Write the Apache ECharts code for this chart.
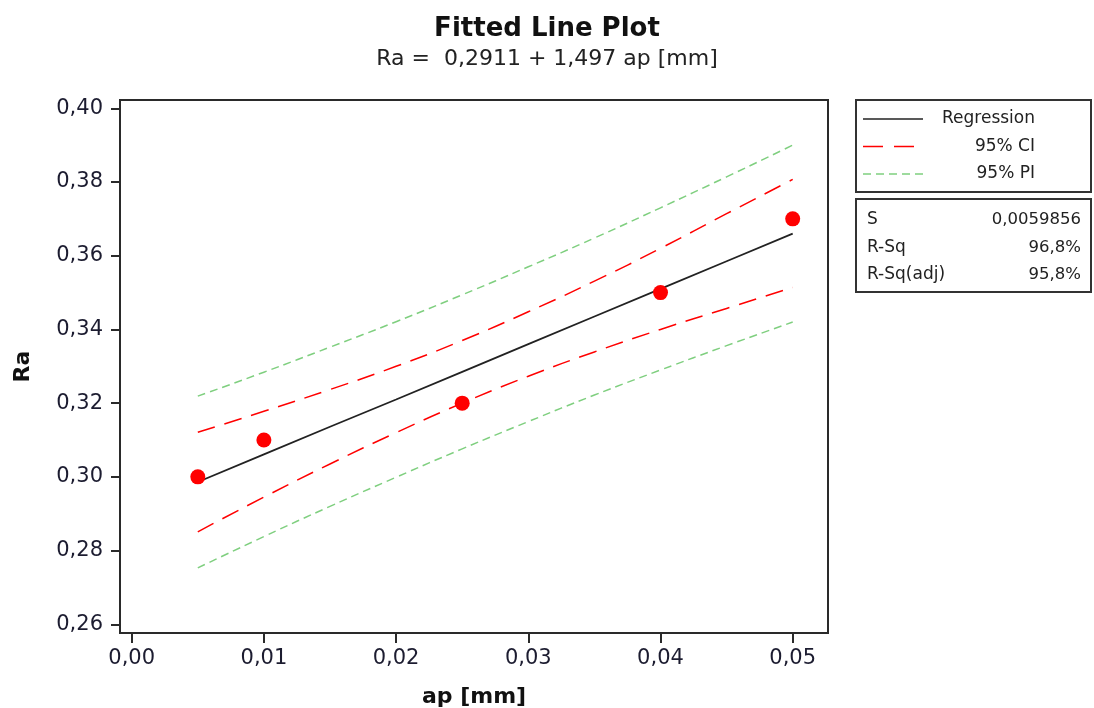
<!DOCTYPE html>
<html>
<head>
<meta charset="utf-8">
<script src="https://cdn.jsdelivr.net/npm/echarts@6/dist/echarts.min.js"></script>
<style>
  html, body { margin: 0; padding: 0; background: #fff; }
  #chart { width: 1094px; height: 708px; }
</style>
</head>
<body>
<div id="chart"></div>
<script>
// observed values
const apObs = [0.005, 0.01, 0.025, 0.04, 0.05]
const raObs = [0.30, 0.31, 0.32, 0.35, 0.37]

// fitted line + bands
const apFit = [0.005, 0.01, 0.015, 0.02, 0.025, 0.03, 0.035, 0.04, 0.045, 0.05]
const raFit = [0.2986, 0.3061, 0.3136, 0.3210, 0.3285, 0.3360, 0.3435, 0.3510, 0.3585, 0.3660]
const ciUpper = [0.3121, 0.3178, 0.3237, 0.3300, 0.3370, 0.3448, 0.3531, 0.3620, 0.3714, 0.3807]
const ciLower = [0.2851, 0.2945, 0.3035, 0.3120, 0.3200, 0.3273, 0.3339, 0.3400, 0.3457, 0.3514]
const piUpper = [0.3219, 0.3284, 0.3352, 0.3421, 0.3494, 0.3570, 0.3648, 0.3730, 0.3814, 0.3900]
const piLower = [0.2753, 0.2838, 0.2920, 0.2999, 0.3076, 0.3150, 0.3222, 0.3290, 0.3356, 0.3420]

// axis ticks
const xTicks = [0, 0.01, 0.02, 0.03, 0.04, 0.05]
const yTicks = [0.26, 0.28, 0.30, 0.32, 0.34, 0.36, 0.38, 0.40]

// legend + stats text
const legendNames = ['Regression', '95% CI', '95% PI']
const statNames = ['S', 'R-Sq', 'R-Sq(adj)']
const statValues = ['0,0059856', '96,8%', '95,8%']

const FONT = 'DejaVu Sans'
const pairs = (xs, ys) => xs.map((x, i) => [x, ys[i]])
const comma = (v, d) => v.toFixed(d).replace('.', ',')

const chart = echarts.init(document.getElementById('chart'))

const legendStyles = [
  { stroke: '#222', lineWidth: 1.5 },
  { stroke: '#ff0000', lineWidth: 1.5, lineDash: [20, 11] },
  { stroke: '#7fcf7f', lineWidth: 1.5, lineDash: [8, 5] }
]
const graphics = [
  { type: 'rect', shape: { x: 856, y: 100, width: 235, height: 92 }, style: { fill: '#fff', stroke: '#333', lineWidth: 2 } },
  { type: 'rect', shape: { x: 856, y: 199, width: 235, height: 93 }, style: { fill: '#fff', stroke: '#333', lineWidth: 2 } }
]
legendNames.forEach((name, i) => {
  const y = 119 + i * 27.5
  graphics.push({ type: 'line', shape: { x1: 863, y1: y, x2: 923, y2: y }, style: legendStyles[i] })
  graphics.push({ type: 'text', x: 1035, y: y, style: { text: name, font: '17px ' + FONT, fill: '#222', align: 'right', verticalAlign: 'middle' } })
})
statNames.forEach((name, i) => {
  const y = 220 + i * 27.5
  graphics.push({ type: 'text', x: 867, y: y, style: { text: name, font: '17px ' + FONT, fill: '#222', align: 'left', verticalAlign: 'middle' } })
  graphics.push({ type: 'text', x: 1081, y: y, style: { text: statValues[i], font: '16.5px ' + FONT, fill: '#222', align: 'right', verticalAlign: 'middle' } })
})

const bandLine = (data, color, dash) => ({
  type: 'line',
  data: data,
  showSymbol: false,
  smooth: true,
  silent: true,
  lineStyle: { color: color, width: 1.5, type: dash },
  z: 2
})

chart.setOption({
  animation: false,
  title: {
    text: 'Fitted Line Plot',
    subtext: 'Ra =  0,2911 + 1,497 ap [mm]',
    left: 'center',
    top: 11,
    itemGap: 6,
    textStyle: { fontFamily: FONT, fontSize: 26, fontWeight: 'bold', color: '#111' },
    subtextStyle: { fontFamily: FONT, fontSize: 22, color: '#222' }
  },
  grid: {
    left: 120, top: 100, width: 708, height: 533,
    outerBoundsMode: 'none',
    containLabel: false,
    show: true, borderColor: '#2a2a2a', borderWidth: 2, backgroundColor: '#fff'
  },
  xAxis: {
    type: 'value',
    min: -0.000885,
    max: 0.05267,
    name: 'ap [mm]',
    nameLocation: 'middle',
    nameGap: 64,
    nameTextStyle: { fontFamily: FONT, fontSize: 22, fontWeight: 'bold', color: '#111', verticalAlign: 'middle' },
    splitLine: { show: false },
    axisLine: { show: true, onZero: false, lineStyle: { color: '#2a2a2a', width: 2 } },
    axisTick: { show: true, customValues: xTicks, length: 10, lineStyle: { color: '#2a2a2a', width: 2 } },
    axisLabel: {
      customValues: xTicks,
      margin: 15,
      fontFamily: FONT, fontSize: 21, color: '#1c1c30',
      formatter: v => comma(v, 2)
    }
  },
  yAxis: {
    type: 'value',
    min: 0.25764,
    max: 0.40225,
    name: 'Ra',
    nameLocation: 'middle',
    nameGap: 86,
    nameRotate: 90,
    nameTextStyle: { fontFamily: FONT, fontSize: 22, fontWeight: 'bold', color: '#111' },
    splitLine: { show: false },
    axisLine: { show: true, onZero: false, lineStyle: { color: '#2a2a2a', width: 2 } },
    axisTick: { show: true, customValues: yTicks, length: 9, lineStyle: { color: '#2a2a2a', width: 2 } },
    axisLabel: {
      customValues: yTicks,
      margin: 17,
      fontFamily: FONT, fontSize: 21, color: '#1c1c30',
      formatter: v => comma(v, 2)
    }
  },
  graphic: graphics,
  series: [
    bandLine(pairs(apFit, piUpper), '#7fcf7f', [8, 5]),
    bandLine(pairs(apFit, piLower), '#7fcf7f', [8, 5]),
    bandLine(pairs(apFit, ciUpper), '#ff0000', [18, 10]),
    bandLine(pairs(apFit, ciLower), '#ff0000', [18, 10]),
    {
      type: 'line',
      data: pairs(apFit, raFit),
      showSymbol: false,
      silent: true,
      lineStyle: { color: '#222', width: 1.8 },
      z: 3
    },
    {
      type: 'scatter',
      data: pairs(apObs, raObs),
      symbol: 'circle',
      symbolSize: 15,
      itemStyle: { color: '#ff0000', opacity: 1 },
      z: 4
    }
  ]
})
</script>
</body>
</html>
